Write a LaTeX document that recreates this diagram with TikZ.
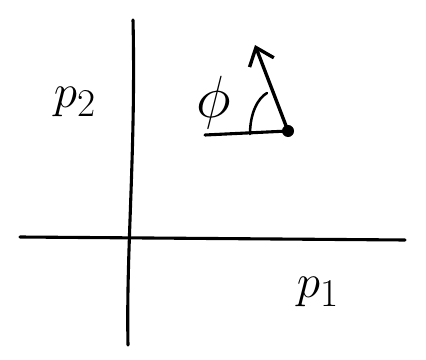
\documentclass[tikz,border=0pt]{standalone}
\usepackage{amsmath,amssymb}
\usepackage{graphicx}
\usepackage{tikz}
\usetikzlibrary{arrows.meta,calc}

\newcommand{\bigsym}[2]{\scalebox{#1}{\Huge$#2$}}

\begin{document}
\begin{tikzpicture}[
    x=0.025cm, y=-0.025cm,
    axis/.style={draw=black, line width=2.2pt, line cap=round},
    vec/.style={draw=black, line width=2.4pt, line cap=round, -{Straight Barb[length=4mm, width=6.5mm, line width=2.4pt]}},
    lbl/.style={inner sep=0pt}
]
\useasboundingbox (0,0) rectangle (426,360);

% Axes
\coordinate (ytop) at (133,20);
\coordinate (ybot) at (128,345);
\coordinate (xl) at (20,237);
\coordinate (xr) at (405,240);
\draw[axis] (ytop) .. controls (136,150) and (126,250) .. (ybot);
\draw[axis] (xl) -- (xr);

% Labels
\node[lbl] (p2) at (75,102) {\bigsym{1.35}{p_2}};
\node[lbl] (p1) at (318,292) {\bigsym{1.35}{p_1}};

% Vector with angle
\node[circle, fill=black, inner sep=0pt, minimum size=3mm] (pt) at (288,131) {};
\coordinate (base) at (205,135);
\coordinate (tip) at (255,45);
\draw[axis] (base) -- (pt.center);
\draw[vec] (pt.center) -- (tip);
\draw[axis, line width=1.8pt] (250,134) .. controls (250,113) and (258,98) .. (267,93);
\node[lbl] (phi) at (214,103) {\bigsym{1.7}{\phi}};
\end{tikzpicture}
\end{document}
